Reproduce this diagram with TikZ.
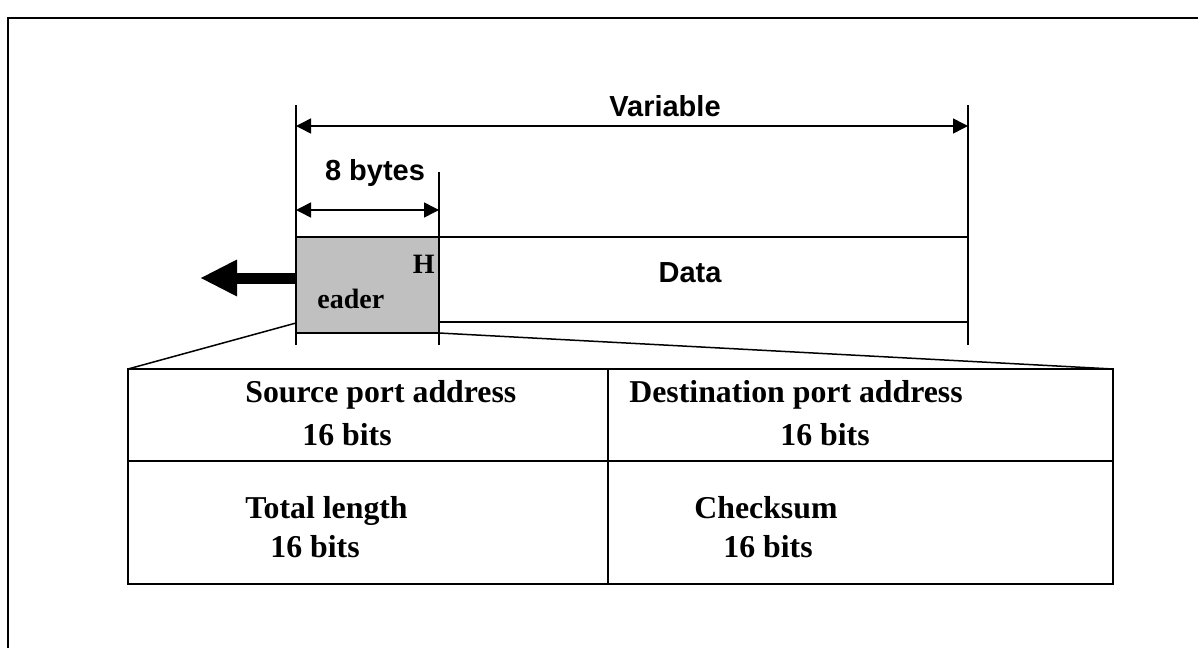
\documentclass[tikz,border=0pt]{standalone}
\usepackage{fontspec}
\setmainfont{Liberation Serif}
\setsansfont{Liberation Sans}
\usetikzlibrary{positioning, arrows.meta, calc}
\definecolor{hdrgray}{RGB}{192,192,192}
\tikzset{
  fieldbox/.style={draw, line width=0.75pt, inner sep=0pt, outer sep=0pt},
  cellbox/.style={draw, line width=0.7pt, inner sep=0pt, outer sep=0pt},
  dimline/.style={{Triangle[length=7.5pt,width=7.5pt]}-{Triangle[length=7.5pt,width=7.5pt]}, line width=0.75pt},
  tickline/.style={line width=0.6pt},
  sflabel/.style={font=\sffamily\bfseries\fontsize{14.5}{17}\selectfont, inner sep=0pt, anchor=base},
  rmlabel/.style={font=\bfseries\fontsize{15.9}{18}\selectfont, inner sep=0pt, anchor=base west},
}

\begin{document}
\begin{tikzpicture}[x=0.5pt, y=-0.5pt]
  \useasboundingbox (0,0) rectangle (1198,648);
  % --- outer frame ---
  \draw[line width=1.3pt] (8,648) -- (8,18) -- (1198,18);

  % --- datagram ---
  \node[fieldbox, fill=hdrgray, minimum width=71.5pt, minimum height=48pt,
        anchor=north west] (hdr) at (296,237) {};
  \node[fieldbox, minimum width=264.5pt, minimum height=42.5pt,
        anchor=north west] (data) at (hdr.north east) {};
  \node[sflabel] (datatxt) at (690,282) {Data};
  \node[font=\bfseries\fontsize{14}{16}\selectfont, inner sep=0pt,
        anchor=base east] (hdrH) at (435,273) {H};
  \node[font=\bfseries\fontsize{14}{16}\selectfont, inner sep=0pt,
        anchor=base west] (hdrrest) at (317,308) {eader};

  % --- dimension ticks and arrows ---
  \draw[tickline] ($(hdr.south west)+(0,12)$) -- ($(hdr.north west)+(0,-132)$);
  \draw[tickline] ($(data.south east)+(0,23)$) -- ($(data.north east)+(0,-132)$);
  \draw[tickline] ($(hdr.south east)+(0,12)$) -- ($(hdr.north east)+(0,-65)$);
  \coordinate (vl) at (296,126);
  \coordinate (vr) at (968,126);
  \draw[dimline] (vl) -- (vr);
  \node[sflabel] (vartxt) at (665,116) {Variable};
  \coordinate (bl) at (296,210);
  \coordinate (br) at (439,210);
  \draw[dimline] (bl) -- (br);
  \node[sflabel] (bytetxt) at (375,180) {8 bytes};

  % --- outgoing arrow ---
  \coordinate (out) at (200,278);
  \draw[-{Triangle[length=18.5pt,width=17pt]}, line width=5.5pt]
    ($(hdr.north west)+(0,41)$) -- (out);

  % --- header fields ---
  \node[cellbox, minimum width=240pt, minimum height=46pt, anchor=north west] (src) at (128,369) {};
  \node[cellbox, minimum width=252.5pt, minimum height=46pt, anchor=north west] (dst) at (src.north east) {};
  \node[cellbox, minimum width=240pt, minimum height=61.5pt, anchor=north west] (len) at (src.south west) {};
  \node[cellbox, minimum width=252.5pt, minimum height=61.5pt, anchor=north west] (chk) at (len.north east) {};
  \draw[line width=1.2pt] (src.north west) rectangle (chk.south east);

  \node[rmlabel] (srctxt) at (245,402) {Source port address};
  \node[rmlabel] (srcbits) at (302,445) {16 bits};
  \node[rmlabel] (dsttxt) at (629,402) {Destination port address};
  \node[rmlabel] (dstbits) at (780,445) {16 bits};
  \node[rmlabel] (lentxt) at (245,518) {Total length};
  \node[rmlabel] (lenbits) at (270,557) {16 bits};
  \node[rmlabel] (chktxt) at (694,518) {Checksum};
  \node[rmlabel] (chkbits) at (723,557) {16 bits};

  % --- zoom lines ---
  \draw[line width=0.75pt] ($(hdr.south west)+(0,-10)$) -- (src.north west);
  \draw[line width=0.75pt] (hdr.south east) -- (dst.north east);
\end{tikzpicture}
\end{document}
